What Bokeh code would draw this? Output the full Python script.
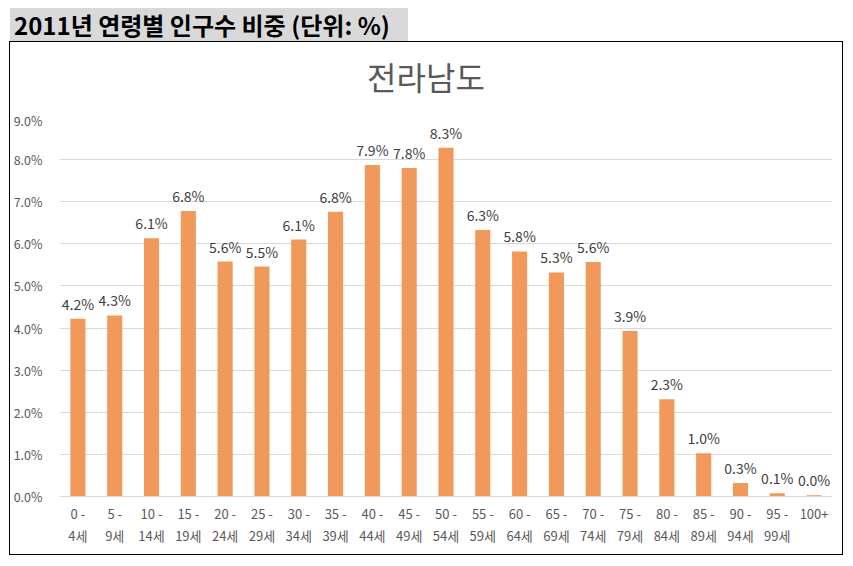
from bokeh.plotting import figure
from bokeh.models import (ColumnDataSource, LabelSet, Range1d, FactorRange,
                          PrintfTickFormatter, FixedTicker, Div)
from bokeh.layouts import column
from bokeh.embed import file_html
from bokeh.resources import INLINE
from bokeh.core.properties import value

header_text = "2011년 연령별 인구수 비중 (단위: %)"
chart_title = "전라남도"
categories = ["0 -\n4세", "5 -\n9세", "10 -\n14세", "15 -\n19세", "20 -\n24세",
              "25 -\n29세", "30 -\n34세", "35 -\n39세", "40 -\n44세", "45 -\n49세",
              "50 -\n54세", "55 -\n59세", "60 -\n64세", "65 -\n69세", "70 -\n74세",
              "75 -\n79세", "80 -\n84세", "85 -\n89세", "90 -\n94세", "95 -\n99세", "100+"]
shares = [4.22, 4.30, 6.13, 6.78, 5.58, 5.46, 6.10, 6.76, 7.87, 7.80, 8.28,
          6.33, 5.82, 5.32, 5.57, 3.93, 2.31, 1.03, 0.32, 0.08, 0.03]
y_ticks = [0, 1, 2, 3, 4, 5, 6, 7, 8, 9]

FONT = "Noto Sans CJK KR"

src = ColumnDataSource(dict(cat=categories, share=shares,
                            label=["%.1f%%" % v for v in shares]))

header = Div(text=header_text, width=398, height=34, margin=0,
             styles={"background-color": "#d9d9d9", "color": "black",
                     "font-family": FONT, "font-weight": "bold", "font-size": "24px",
                     "line-height": "34px", "text-indent": "4px", "white-space": "nowrap"})

title = Div(text=chart_title, width=832, height=68, margin=0,
            styles={"background-color": "white", "color": "#595959",
                    "font-family": FONT, "font-size": "32px", "line-height": "68px",
                    "text-align": "center", "white-space": "nowrap"})

p = figure(width=832, height=444, x_range=FactorRange(*categories), y_range=Range1d(0, 9),
           output_backend="svg", toolbar_location=None, tools="", margin=0,
           min_border_left=46, min_border_right=10, min_border_top=7, min_border_bottom=58)
p.outline_line_color = None
p.background_fill_color = "white"
p.border_fill_color = "white"

p.vbar(x="cat", top="share", width=0.41, source=src, color="#F1995A", line_color=None)

p.add_layout(LabelSet(x="cat", y="share", text="label", source=src, y_offset=9,
                      text_align="center", text_baseline="alphabetic",
                      text_font=value(FONT), text_font_size="14px", text_color="#404040"))

p.xgrid.grid_line_color = None
p.ygrid.grid_line_color = "#d9d9d9"
p.ygrid.ticker = FixedTicker(ticks=y_ticks)
p.yaxis.ticker = FixedTicker(ticks=y_ticks)
p.yaxis.formatter = PrintfTickFormatter(format="%.1f%%")
p.yaxis.axis_line_color = None
p.yaxis.major_tick_line_color = None
p.yaxis.minor_tick_line_color = None
p.yaxis.major_label_standoff = 11
p.yaxis.major_label_text_font = FONT
p.yaxis.major_label_text_font_size = "12.5px"
p.yaxis.major_label_text_color = "#595959"

p.xaxis.axis_line_color = "#d9d9d9"
p.xaxis.major_tick_line_color = None
p.xaxis.minor_tick_line_color = None
p.xaxis.major_label_standoff = 1
p.xaxis.major_label_text_font = FONT
p.xaxis.major_label_text_font_size = "13px"
p.xaxis.major_label_text_color = "#595959"
p.xaxis.major_label_text_line_height = 1.2

box = column(title, p, margin=0, spacing=0,
             styles={"outline": "1.5px solid black", "outline-offset": "0px"})
layout = column(header, box, margin=(8, 0, 0, 10), spacing=0)

open("out.html", "w").write(file_html(layout, INLINE))
